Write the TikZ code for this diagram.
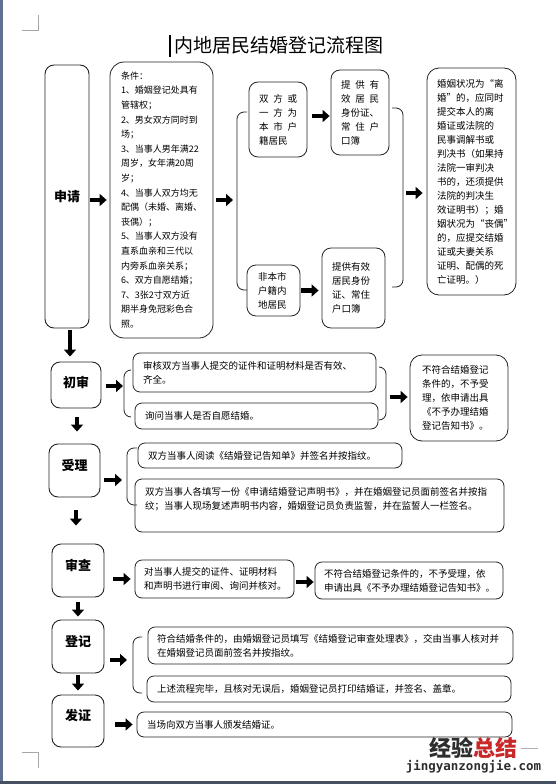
\documentclass[tikz,border=0pt]{standalone}
\usepackage{fontspec}
\setmainfont{Noto Sans CJK SC}
\newfontfamily\wmurlfont{DejaVu Sans Mono}
\usetikzlibrary{arrows.meta}
\definecolor{edgegray}{RGB}{35,35,35}
\definecolor{pagestrip}{RGB}{96,112,146}
\definecolor{pagebottom}{RGB}{70,80,96}
\definecolor{wmgray}{RGB}{45,45,45}
\definecolor{wmred}{RGB}{200,40,42}
\newcommand{\spreadline}[1]{\makebox[\linewidth][s]{#1}}
\tikzset{
    stage/.style = {draw=edgegray, rectangle, rounded corners=9pt, line width=0.9pt, inner sep=0pt, align=center, font=\fontsize{13}{15}\selectfont\bfseries},
    box/.style = {draw=edgegray, rectangle, rounded corners=7pt, line width=0.8pt, inner xsep=10pt, inner ysep=0pt, align=left, font=\fontsize{9.5}{14}\selectfont},
    fatarrow/.style = {line width=4.5pt, -{Triangle[length=7pt, width=12pt]}},
    bracket/.style = {draw=edgegray, line width=0.8pt, rounded corners=7pt}
}

\begin{document}
\begin{tikzpicture}[x=1pt, y=-1pt]

    % Page frame
    \useasboundingbox (0,0) rectangle (556,784);
    \fill[pagestrip] (0,0) rectangle (2.5,784);
    \fill[pagebottom] (0,780.5) rectangle (556,784);
    \draw[gray!70, line width=0.6pt] (22,30) -- (38,30) -- (38,15);
    \draw[gray!70, line width=0.6pt] (22,752) -- (38,752) -- (38,768);

    % Title
    \draw[line width=1.6pt] (170,35) -- (170,57);
    \node[font=\fontsize{19}{22}\selectfont] (title) at (279,45.5) {内地居民结婚登记流程图};

    % Stage 1: 申请
    \node[stage, minimum width=44pt, minimum height=263pt] (apply) at (67,196.5) {申请};
    \node[box, rounded corners=14pt, inner xsep=11pt, text width=81pt, minimum height=276pt, font=\fontsize{9}{14.6}\selectfont] (cond) at (161.5,200) {条件：\\1、婚姻登记处具有\\管辖权；\\2、男女双方同时到\\场；\\3、当事人男年满22\\周岁，女年满20周\\岁；\\4、当事人双方均无\\配偶（未婚、离婚、\\丧偶）；\\5、当事人双方没有\\直系血亲和三代以\\内旁系血亲关系；\\6、双方自愿结婚；\\7、3张2寸双方近\\期半身免冠彩色合\\照。};
    \node[box, rounded corners=9pt, text width=38pt, minimum height=75pt] (local1) at (278,119.5) {\spreadline{双\hfill 方\hfill 或}\\\spreadline{一\hfill 方\hfill 为}\\\spreadline{本\hfill 市\hfill 户}\\籍居民};
    \node[box, rounded corners=9pt, text width=38pt, minimum height=85pt] (doc1) at (360,112.5) {\spreadline{提\hfill 供\hfill 有}\\\spreadline{效\hfill 居\hfill 民}\\身份证、\\\spreadline{常\hfill 住\hfill 户}\\口簿};
    \node[box, rounded corners=9pt, inner xsep=11pt, text width=31pt, minimum height=51pt] (nonlocal) at (273.5,290.5) {非本市\\户籍内\\地居民};
    \node[box, rounded corners=9pt, text width=43pt, minimum height=80pt] (doc2) at (353.5,288) {提供有效\\居民身份\\证、常住\\户口簿};
    \node[box, rounded corners=12pt, text width=69pt, minimum height=227pt] (extra) at (471.5,181.5) {婚姻状况为“离\\婚”的，应同时\\提交本人的离\\婚证或法院的\\民事调解书或\\判决书（如果持\\法院一审判决\\书的，还须提供\\法院的判决生\\效证明书）；婚\\姻状况为“丧偶”\\的，应提交结婚\\证或夫妻关系\\证明、配偶的死\\亡证明。）};

    \draw[bracket] (247,112) -- (237,112) -- (237,290) -- (247,290);
    \coordinate (b1) at (237,200);
    \draw[bracket] (392,108) -- (403,108) -- (403,287) -- (392,287);
    \coordinate (b2) at (403,193);

    \draw[fatarrow, shorten <=1pt, shorten >=3pt] (apply.east |- cond.west) -- (cond.west);
    \draw[fatarrow, shorten <=3pt, shorten >=4pt] (cond.east) -- (b1);
    \draw[fatarrow, shorten <=5pt, shorten >=1pt] ([yshift=3.5pt]local1.east) -- ([yshift=3.5pt]local1.east -| doc1.west);
    \draw[fatarrow, shorten <=1pt, shorten >=3pt] (nonlocal.east) -- (nonlocal.east -| doc2.west);
    \draw[fatarrow, shorten <=3pt, shorten >=4pt] (b2) -- (b2 -| extra.west);

    % Stage 2: 初审
    \node[stage, minimum width=50pt, minimum height=46pt, text depth=7pt] (check) at (76,385) {初审};
    \node[box, text width=223pt, minimum height=39pt] (check1) at (254.5,372.5) {审核双方当事人提交的证件和证明材料是否有效、\\齐全。};
    \node[box, text width=223pt, minimum height=26pt] (check2) at (256.5,416) {询问当事人是否自愿结婚。};
    \node[box, rounded corners=12pt, inner xsep=12pt, text width=74pt, minimum height=86pt] (reject1) at (459,398) {不符合结婚登记\\条件的，不予受\\理，依申请出具\\《不予办理结婚\\登记告知书》。};

    \draw[bracket] (131,370) -- (124,370) -- (124,417) -- (131,417);
    \coordinate (b3) at (124,386);
    \draw[bracket] (379,367) -- (386,367) -- (386,420) -- (379,420);
    \coordinate (b4) at (386,397);

    \draw[fatarrow, shorten <=5pt, shorten >=1pt] (check.east |- b3) -- (b3);
    \draw[fatarrow, shorten <=4pt, shorten >=2pt] (b4) -- (b4 -| reject1.west);

    % Stage 3: 受理
    \node[stage, minimum width=51pt, minimum height=53pt, text depth=12pt] (accept) at (74.5,470.5) {受理};
    \node[box, text width=244pt, minimum height=25pt] (accept1) at (270,455.5) {双方当事人阅读《结婚登记告知单》并签名并按指纹。};
    \node[box, text width=349pt, minimum height=53pt] (accept2) at (319.5,505.5) {双方当事人各填写一份《申请结婚登记声明书》，并在婚姻登记员面前签名并按指\\纹；当事人现场复述声明书内容，婚姻登记员负责监誓，并在监誓人一栏签名。\\ \mbox{}};

    \draw[bracket] (137,448) -- (127,448) -- (127,505) -- (137,505);
    \coordinate (b5) at (127,480);

    \draw[fatarrow, shorten <=4pt, shorten >=5pt] (accept.east |- b5) -- (b5);

    % Stage 4: 审查
    \node[stage, minimum width=52pt, minimum height=53pt, text depth=12pt] (review) at (78,570.5) {审查};
    \node[box, inner xsep=9pt, text width=141pt, minimum height=38pt] (review1) at (214.5,579) {对当事人提交的证件、证明材料\\和声明书进行审阅、询问并核对。};
    \node[box, inner xsep=9pt, text width=170pt, minimum height=37pt] (review2) at (409,580.5) {不符合结婚登记条件的，不予受理，依\\申请出具《不予办理结婚登记告知书》。};

    \draw[fatarrow, shorten <=9pt, shorten >=4pt] (review.east |- review1.west) -- (review1.west);
    \draw[fatarrow, shorten <=2pt, shorten >=1pt] ([yshift=-3pt]review1.east) -- ([yshift=-3pt]review1.east -| review2.west);

    % Stage 5: 登记
    \node[stage, minimum width=52pt, minimum height=53pt, text depth=12pt] (register) at (78,646.5) {登记};
    \node[box, inner xsep=9pt, text width=347pt, minimum height=37pt] (register1) at (330.5,645.5) {符合结婚条件的，由婚姻登记员填写《结婚登记审查处理表》，交由当事人核对并\\在婚姻登记员面前签名并按指纹。};
    \node[box, text width=344pt, minimum height=26pt] (register2) at (329,689) {上述流程完毕，且核对无误后，婚姻登记员打印结婚证，并签名、盖章。};

    \draw[bracket] (142,637) -- (133,637) -- (133,693) -- (142,693);
    \coordinate (b6) at (133,660);

    \draw[fatarrow, shorten <=6pt, shorten >=6pt] (register.east |- b6) -- (b6);

    % Stage 6: 发证
    \node[stage, minimum width=52pt, minimum height=52pt, text depth=12pt] (issue) at (78,721) {发证};
    \node[box, text width=355pt, minimum height=25pt] (issue1) at (324.5,724.5) {当场向双方当事人颁发结婚证。};

    \draw[fatarrow, shorten <=11pt, shorten >=4pt] (issue.east |- issue1.west) -- (issue1.west);

    % Downward flow
    \draw[fatarrow, shorten <=2pt, shorten >=5pt] ([xshift=3pt]apply.south) -- ([xshift=3pt]apply.south |- check.north);
    \draw[fatarrow, shorten <=9pt, shorten >=12pt] ([xshift=1pt]check.south) -- ([xshift=1pt]check.south |- accept.north);
    \draw[fatarrow, shorten <=13pt, shorten >=18pt] ([xshift=1.5pt]accept.south) -- ([xshift=1.5pt]accept.south |- review.north);
    \draw[fatarrow, shorten <=5pt, shorten >=3pt] (review.south) -- (register.north);
    \draw[fatarrow, shorten <=2pt, shorten >=4pt] (register.south) -- (issue.north);

    % Watermark
    \node[font=\fontsize{22}{24}\selectfont\bfseries, text=wmgray] (wmark) at (473,748) {经验\textcolor{wmred}{总结}};
    \draw[gray!60, line width=0.6pt] (wmark.east) -- ++(17,0);
    \node[font=\wmurlfont\fontsize{12.5}{14}\selectfont\bfseries, text=wmgray] (wmurl) at (473.5,767) {jingyanzongjie.com};

\end{tikzpicture}
\end{document}
